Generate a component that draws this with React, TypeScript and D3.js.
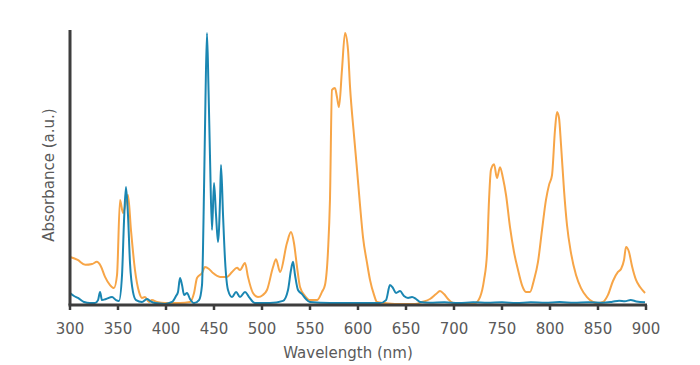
import React, { useEffect, useRef } from 'react';
import * as d3 from 'd3';

// wavelength (nm), absorbance (a.u., 0-100)
const orangeNm = [300, 308, 316, 323, 328, 332, 336.5, 341.7, 345.8, 349, 352.1, 355.2, 360.4, 363.5, 367.7, 371.9, 375, 378.1, 382.3, 385.4, 390.6, 399, 414.6, 425, 429.2, 432.3, 437.5, 440.6, 444.8, 449, 456.3, 463.5, 468.8, 474, 477.1, 482.3, 485.4, 490.6, 495.8, 501, 505.2, 511.5, 514.6, 518.8, 526, 530.2, 533.3, 536.5, 539.6, 544.8, 550, 557.3, 562.5, 565.6, 568.8, 570.8, 572.9, 576, 578.1, 580.2, 583.3, 586.5, 589.6, 591.7, 595.8, 599, 602.1, 605.2, 609.4, 612.5, 616.7, 619.8, 628.1, 638.5, 649, 659.4, 666.7, 675, 681.3, 685.4, 689.6, 693.8, 699, 711.5, 721.9, 727.1, 731.3, 734.4, 736.5, 738.5, 741.7, 744.8, 747.9, 751, 754.2, 758.3, 762.5, 766.7, 770.8, 775, 779.2, 783.3, 787.5, 791.7, 795.8, 799, 802.1, 805.2, 807.3, 809.4, 811.5, 814.6, 817.7, 821.9, 827.1, 832.3, 838.5, 844.8, 850, 855.2, 860.4, 865.6, 870.8, 874, 877.1, 879.2, 882.3, 885.4, 889.6, 893.8, 899];
const orangeAbs = [17.6, 16.5, 14.7, 15.0, 15.8, 14.3, 10.3, 7.3, 6.2, 11.0, 38.5, 33.7, 40.3, 27.5, 12.8, 4.8, 2.6, 2.9, 1.1, 1.8, 1.1, 0.7, 0.7, 1.1, 4.4, 9.9, 11.7, 13.9, 13.2, 11.7, 10.3, 10.3, 12.1, 13.6, 12.8, 15.4, 10.3, 4.4, 2.9, 3.7, 5.5, 13.9, 16.8, 12.1, 22.7, 26.7, 22.7, 13.9, 6.6, 3.3, 1.8, 1.8, 4.8, 7.3, 20.1, 38.5, 78.8, 79.5, 76.2, 72.5, 86.1, 99.6, 93.4, 79.9, 62.3, 49.5, 36.6, 24.9, 15.4, 9.2, 3.7, 1.1, 0.7, 0.4, 0.4, 0.4, 1.1, 2.2, 4.0, 5.1, 4.0, 2.2, 0.7, 0.4, 0.7, 2.9, 9.2, 19.0, 38.5, 49.5, 51.6, 46.5, 50.5, 46.5, 40.3, 28.6, 19.4, 12.8, 7.3, 4.8, 4.8, 9.2, 15.8, 27.5, 38.5, 44.0, 47.6, 64.1, 70.7, 68.5, 58.6, 42.1, 29.3, 19.0, 11.0, 6.2, 2.9, 1.1, 0.7, 1.1, 3.7, 8.8, 12.1, 13.2, 16.5, 21.2, 19.4, 14.3, 9.2, 6.6, 4.4];

const blueNm = [300, 304.2, 308.3, 314.6, 320.8, 326, 329.2, 331.3, 333.3, 337.5, 343.8, 347.9, 351, 354.2, 356.3, 358.3, 360.4, 362.5, 365.6, 368.8, 375, 380.2, 383.3, 388.5, 399, 406.3, 410.4, 412.5, 414.6, 416.7, 418.8, 421.9, 425, 429.2, 434.4, 437.5, 439.6, 441.1, 442.7, 444.3, 445.8, 447.9, 450, 452.1, 454.2, 456.3, 457.3, 459.4, 461.5, 464.6, 468.8, 473, 477.1, 482.3, 486.5, 492.7, 508.3, 521.9, 527.1, 530.2, 532.3, 534.4, 537.5, 541.7, 545.8, 550, 570.8, 600, 622.9, 629.2, 633.3, 636.5, 639.6, 643.8, 647.9, 652.1, 656.3, 660.4, 664.6, 675, 690, 705, 720, 735, 750, 765, 780, 795, 810, 825, 840, 855, 865, 872, 878, 884, 890, 899];
const blueAbs = [4.4, 3.3, 2.6, 1.1, 0.7, 0.7, 1.8, 4.8, 1.8, 2.2, 2.9, 1.8, 1.5, 11.0, 31.1, 43.2, 33.0, 15.4, 4.8, 1.8, 1.1, 2.2, 1.5, 0.7, 0.4, 1.1, 3.3, 4.8, 9.9, 7.3, 3.7, 4.4, 2.2, 0.7, 1.8, 7.3, 42.1, 75.1, 99.6, 78.8, 54.9, 27.5, 44.7, 33.0, 23.1, 38.5, 51.3, 33.0, 16.5, 5.5, 2.9, 4.8, 2.9, 4.8, 2.9, 0.7, 0.7, 1.5, 5.5, 12.8, 15.8, 11.0, 5.5, 4.0, 2.2, 1.1, 0.7, 0.7, 0.7, 1.8, 7.3, 6.2, 4.4, 5.1, 3.3, 2.6, 2.9, 2.2, 1.1, 0.8, 1.0, 0.7, 1.0, 0.8, 1.0, 0.7, 1.0, 0.8, 1.1, 0.8, 1.0, 0.8, 1.2, 1.6, 1.4, 1.8, 1.3, 1.0];

const xTicks = [300, 350, 400, 450, 500, 550, 600, 650, 700, 750, 800, 850, 900];

const W = 700;
const H = 365;
const margin = { left: 70, right: 54, top: 32, bottom: 60 };
const font = '"DejaVu Sans", Verdana, sans-serif';

function App() {
  const svgRef = useRef<SVGSVGElement>(null);

  useEffect(() => {
    const svg = d3.select(svgRef.current);
    svg.selectAll('*').remove();

    const x = d3.scaleLinear().domain([300, 900]).range([margin.left, W - margin.right]);
    const y = d3.scaleLinear().domain([0, 100]).range([H - margin.bottom, margin.top]);
    const y0 = H - margin.bottom;

    const line = d3
      .line<[number, number]>()
      .x(d => x(d[0]))
      .y(d => y(d[1]))
      .curve(d3.curveMonotoneX);

    const orange = orangeNm.map((n, i) => [n, orangeAbs[i]] as [number, number]);
    const blue = blueNm.map((n, i) => [n, blueAbs[i]] as [number, number]);

    svg.append('path')
      .attr('d', line(orange) as string)
      .attr('fill', 'none')
      .attr('stroke', '#F7A547')
      .attr('stroke-width', 2);

    svg.append('path')
      .attr('d', line(blue) as string)
      .attr('fill', 'none')
      .attr('stroke', '#1A86B2')
      .attr('stroke-width', 2);

    // axes
    const xAxis = svg.append('g').attr('transform', `translate(0,${y0})`);
    xAxis.append('line')
      .attr('x1', margin.left - 1.5)
      .attr('x2', W - margin.right + 1)
      .attr('stroke', '#3d3d3d')
      .attr('stroke-width', 3);
    xAxis.selectAll('line.tick')
      .data(xTicks)
      .join('line')
      .attr('class', 'tick')
      .attr('x1', d => x(d))
      .attr('x2', d => x(d))
      .attr('y1', 0)
      .attr('y2', 5)
      .attr('stroke', '#3d3d3d')
      .attr('stroke-width', 2.5);
    xAxis.selectAll('text')
      .data(xTicks)
      .join('text')
      .attr('x', d => x(d))
      .attr('y', 29)
      .attr('text-anchor', 'middle')
      .attr('font-family', font)
      .attr('font-size', 15)
      .attr('fill', '#5a5a5a')
      .text(d => d);

    svg.append('line')
      .attr('x1', margin.left)
      .attr('x2', margin.left)
      .attr('y1', 30)
      .attr('y2', y0)
      .attr('stroke', '#3d3d3d')
      .attr('stroke-width', 3);

    svg.append('text')
      .attr('x', 348)
      .attr('y', 358)
      .attr('text-anchor', 'middle')
      .attr('font-family', font)
      .attr('font-size', 15)
      .attr('fill', '#5a5a5a')
      .text('Wavelength (nm)');

    svg.append('text')
      .attr('transform', `translate(54,175) rotate(-90)`)
      .attr('text-anchor', 'middle')
      .attr('font-family', font)
      .attr('font-size', 15)
      .attr('fill', '#5a5a5a')
      .text('Absorbance (a.u.)');
  }, []);

  return (
    <div style={{ position: 'fixed', left: 0, top: 0, width: W, height: H, background: '#fff' }}>
      <svg ref={svgRef} width={W} height={H}></svg>
    </div>
  );
}

export default App;
